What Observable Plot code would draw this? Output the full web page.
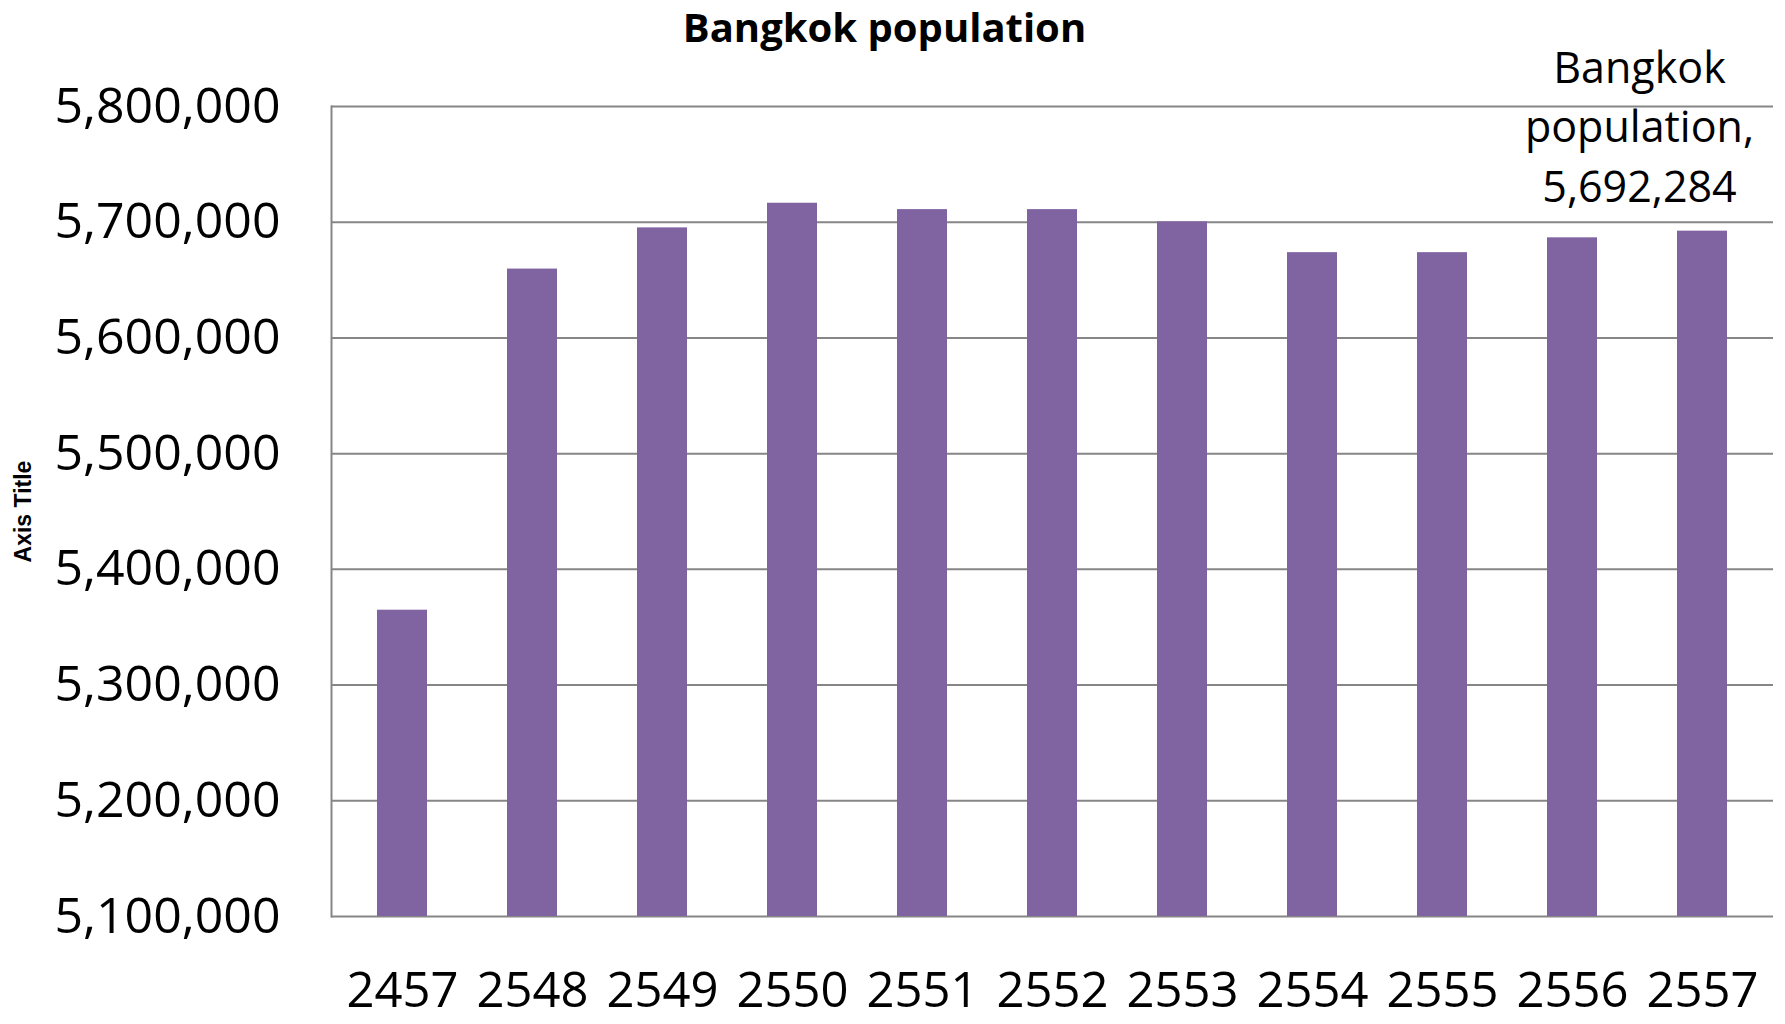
<!DOCTYPE html>
<html>
<head>
<meta charset="utf-8">
<script src="https://cdn.jsdelivr.net/npm/d3@7"></script>
<script src="https://cdn.jsdelivr.net/npm/@observablehq/plot@0.6"></script>
<style>
  html, body { margin: 0; padding: 0; background: #fff; }
  #wrap { position: relative; width: 1785px; height: 1024px; }
  #title { position: absolute; top: 0; left: -8px; width: 1785px; height: 54px; line-height: 54px; text-align: center; font-family: "Open Sans", sans-serif; font-weight: bold; font-size: 40px; color: #000; z-index: 2; }
  #chart svg { display: block; }
</style>
</head>
<body>
<div id="wrap">
<div id="title">Bangkok population</div>
<div id="chart"></div>
</div>
<script>
const years = ["2457", "2548", "2549", "2550", "2551", "2552", "2553", "2554", "2555", "2556", "2557"];
const population = [5364700, 5659500, 5695100, 5716400, 5710900, 5710900, 5700300, 5673700, 5673700, 5686500, 5692284];
const yTicks = [5100000, 5200000, 5300000, 5400000, 5500000, 5600000, 5700000, 5800000];
const seriesName = "Bangkok population";
const axisTitle = "Axis Title";

const data = years.map((y, i) => ({year: y, value: population[i]}));
const last = data[data.length - 1];
const annotation = [{year: last.year, value: last.value, label: `${seriesName.split(" ")[0]}\n${seriesName.split(" ")[1]},\n${d3.format(",")(last.value)}`}];

const chart = Plot.plot({
  width: 1785,
  height: 1024,
  marginLeft: 331,
  marginRight: 12,
  marginTop: 106,
  marginBottom: 108,
  style: {fontFamily: "Open Sans, sans-serif", color: "#000", background: "#fff"},
  x: {domain: years, paddingInner: 0.618, paddingOuter: 0.314, label: null},
  y: {domain: [5100000, 5800000], label: null},
  marks: [
    Plot.gridY(yTicks, {stroke: "#868686", strokeOpacity: 1, strokeWidth: 2}),
    Plot.frame({anchor: "left", stroke: "#868686", strokeWidth: 2}),
    Plot.barY(data, {x: "year", y1: 5100000, y2: "value", fill: "#8064A2"}),
    Plot.axisY(yTicks, {tickSize: 0, tickPadding: 51, tickFormat: d3.format(","), fontSize: 50, label: null, fill: "#000"}),
    Plot.axisY([], {label: axisTitle, labelAnchor: "center", labelArrow: "none", labelOffset: 317, fontSize: 23, fontWeight: "bold", fill: "#000", fontFamily: "Liberation Sans, Arial, sans-serif"}),
    Plot.axisX({tickSize: 0, tickPadding: 56, fontSize: 49, label: null, fill: "#000"}),
    Plot.text(annotation, {x: "year", y: "value", text: "label", dx: -63, dy: -29, lineAnchor: "bottom", fontSize: 43, lineHeight: 1.39, fill: "#000"})
  ]
});
document.getElementById("chart").appendChild(chart);
</script>
</body>
</html>
